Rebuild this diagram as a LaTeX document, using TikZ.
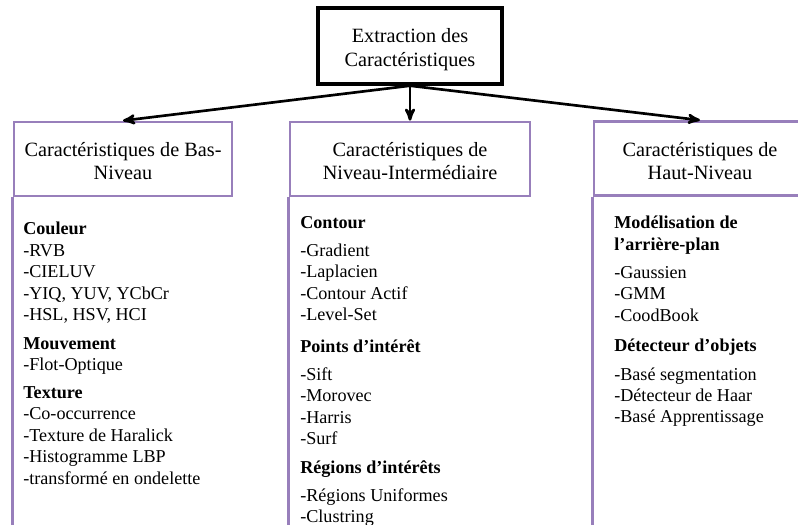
\documentclass[tikz,border=0pt]{standalone}
\usepackage{fontspec}
\setmainfont{Liberation Serif}
\usetikzlibrary{arrows}
\definecolor{lilas}{RGB}{152,127,187}
\newcommand{\hausse}[1]{\rule{0pt}{#1}}

\begin{document}
\begin{tikzpicture}[x=0.75pt,y=-0.75pt,
  titre/.style={draw=black,line width=2.6pt,minimum width=138pt,minimum height=57pt,align=center,font=\fontsize{15.2}{18}\selectfont},
  niveau/.style={draw=lilas,line width=2pt,minimum height=55.5pt,align=center,font=\fontsize{15.2}{17.6}\selectfont},
  bord/.style={draw=lilas,line width=2pt},
  liste/.style={anchor=north west,inner sep=0pt,align=left,font=\fontsize{13.6}{16.1}\selectfont},
  fleche/.style={->,>=stealth',line width=2pt}]
 \useasboundingbox (0,0) rectangle (798,524);
 \clip (0,0) rectangle (798,524);
 \coordinate (pied) at (0,526);

 \node[titre] (extraction) at (410,46) {\hausse{16pt}Extraction des\\Caractéristiques};

 \node[niveau,minimum width=163.5pt] (bas) at (123,159) {\hausse{14pt}Caractéristiques de Bas-\\Niveau};
 \node[niveau,minimum width=180pt] (inter) at (410,159) {\hausse{14pt}Caractéristiques de\\Niveau-Intermédiaire};
 \node[niveau,minimum width=159pt] (haut) at (700,158.5) {\hausse{14pt}Caractéristiques de\\Haut-Niveau};

 \draw[bord] (bas.south west) -- (bas.south west |- pied);
 \draw[bord] (inter.south west) -- (inter.south west |- pied);
 \draw[bord] (haut.south west) -- (haut.south west |- pied);

 \draw[fleche] (extraction.south) to (bas.north);
 \draw[fleche] (extraction.south) to (inter.north);
 \draw[fleche] (extraction.south) to (haut.north);

 % bas niveau
 \node[liste] (couleur) at (23,222) {\textbf{Couleur}\\-RVB\\-CIELUV\\-YIQ, YUV, YCbCr\\-HSL, HSV, HCI};
 \node[liste] (mouvement) at (23,337) {\textbf{Mouvement}\\-Flot-Optique};
 \node[liste] (texture) at (23,386) {\textbf{Texture}\\-Co-occurrence\\-Texture de Haralick\\-Histogramme LBP\\-transformé en ondelette};

 % niveau intermediaire
 \node[liste] (contour) at (300,216) {\textbf{Contour}\\[5pt]-Gradient\\-Laplacien\\-Contour Actif\\-Level-Set};
 \node[liste] (points) at (300,339) {\textbf{Points d’intérêt}\\[5pt]-Sift\\-Morovec\\-Harris\\-Surf};
 \node[liste] (regions) at (300,460) {\textbf{Régions d’intérêts}\\[5pt]-Régions Uniformes\\-Clustring};

 % haut niveau
 \node[liste] (modelisation) at (614,216) {\textbf{Modélisation de}\\\textbf{l’arrière-plan}\\[5pt]-Gaussien\\-GMM\\-CoodBook};
 \node[liste] (detecteur) at (614,339) {\textbf{Détecteur d’objets}\\[5pt]-Basé segmentation\\-Détecteur de Haar\\-Basé Apprentissage};
\end{tikzpicture}
\end{document}
